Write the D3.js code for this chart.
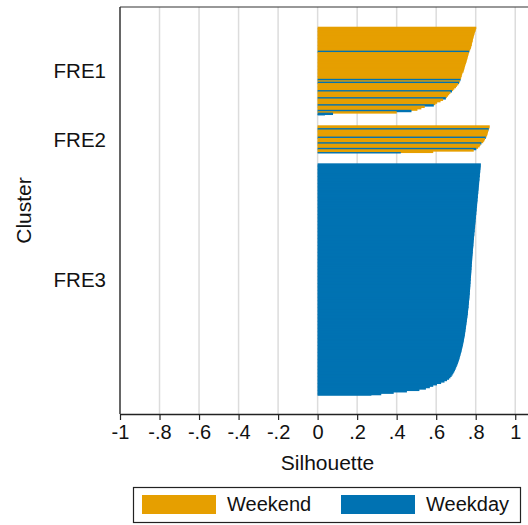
<!DOCTYPE html>
<html>
<head>
<meta charset="utf-8">
<script src="https://cdn.jsdelivr.net/npm/d3@7"></script>
<style>
  html, body { margin: 0; padding: 0; background: #fff; }
  svg { display: block; font-family: "Liberation Sans", Arial, sans-serif; }
</style>
</head>
<body>
<svg id="chart" width="528" height="525"></svg>
<script>
// Silhouette widths per cluster, sorted from largest to smallest
const clusters = ["FRE1", "FRE2", "FRE3"];

const fre1Silhouette = [
  0.803, 0.801, 0.799, 0.796, 0.794, 0.792, 0.790, 0.788, 0.786, 0.785,
  0.783, 0.781, 0.780, 0.778, 0.776, 0.773, 0.770, 0.767, 0.765, 0.763,
  0.761, 0.759, 0.757, 0.755, 0.753, 0.751, 0.748, 0.746, 0.744, 0.742,
  0.740, 0.738, 0.733, 0.731, 0.729, 0.727, 0.725, 0.723, 0.720, 0.716,
  0.712, 0.705, 0.700, 0.692, 0.686, 0.680, 0.672, 0.666, 0.660, 0.654,
  0.649, 0.635, 0.622, 0.605, 0.596, 0.588, 0.542, 0.525, 0.505, 0.475,
  0.400, 0.078, 0.037
];
// rows (0-based) of each cluster that are weekday observations
const fre1WeekdayRows = [17, 37, 39, 45, 50, 55, 59, 61, 62];

const fre2Silhouette = [
  0.871, 0.869, 0.866, 0.864, 0.862, 0.860, 0.858, 0.855, 0.851, 0.847,
  0.843, 0.838, 0.829, 0.824, 0.820, 0.812, 0.803, 0.790, 0.585, 0.421
];
const fre2WeekdayRows = [2, 8, 12, 16, 19];

const fre3Silhouette = [
  0.826, 0.825, 0.825, 0.824, 0.823, 0.823, 0.822, 0.821, 0.821, 0.820,
  0.819, 0.819, 0.818, 0.817, 0.817, 0.816, 0.815, 0.815, 0.814, 0.813,
  0.813, 0.812, 0.811, 0.811, 0.810, 0.809, 0.809, 0.808, 0.807, 0.807,
  0.806, 0.805, 0.805, 0.804, 0.803, 0.803, 0.802, 0.801, 0.801, 0.800,
  0.799, 0.799, 0.798, 0.797, 0.797, 0.796, 0.795, 0.795, 0.794, 0.793,
  0.793, 0.792, 0.791, 0.791, 0.790, 0.789, 0.789, 0.788, 0.788, 0.787,
  0.786, 0.786, 0.785, 0.785, 0.784, 0.783, 0.783, 0.782, 0.782, 0.781,
  0.781, 0.780, 0.780, 0.779, 0.779, 0.778, 0.778, 0.777, 0.777, 0.776,
  0.776, 0.775, 0.775, 0.774, 0.774, 0.773, 0.773, 0.772, 0.772, 0.771,
  0.771, 0.770, 0.770, 0.769, 0.768, 0.768, 0.767, 0.766, 0.766, 0.765,
  0.764, 0.764, 0.763, 0.762, 0.761, 0.761, 0.760, 0.759, 0.758, 0.757,
  0.756, 0.755, 0.754, 0.753, 0.752, 0.751, 0.750, 0.749, 0.748, 0.747,
  0.746, 0.745, 0.744, 0.742, 0.741, 0.740, 0.738, 0.737, 0.735, 0.734,
  0.732, 0.730, 0.729, 0.727, 0.725, 0.723, 0.721, 0.719, 0.717, 0.715,
  0.712, 0.710, 0.707, 0.704, 0.701, 0.698, 0.695, 0.691, 0.687, 0.683,
  0.678, 0.672, 0.665, 0.655, 0.642, 0.625, 0.604, 0.585, 0.568, 0.548,
  0.515, 0.452, 0.385, 0.322, 0.272
];
const fre3WeekdayRows = d3.range(fre3Silhouette.length); // every row is a weekday observation

const dayTypes = ["Weekend", "Weekday"];
const xTicks = [-1, -0.8, -0.6, -0.4, -0.2, 0, 0.2, 0.4, 0.6, 0.8, 1];

// ---- layout ----
const W = 528, H = 525;
const plot = { left: 120, right: 535, top: 7, bottom: 414 };
const padTopRows = 14, gapRows = 7, padBottomRows = 13;
const colors = { Weekend: "#E69F00", Weekday: "#0072B2" };

const svg = d3.select("#chart");

// build rows with slot positions
const groups = [
  { name: clusters[0], vals: fre1Silhouette, weekday: new Set(fre1WeekdayRows) },
  { name: clusters[1], vals: fre2Silhouette, weekday: new Set(fre2WeekdayRows) },
  { name: clusters[2], vals: fre3Silhouette, weekday: new Set(fre3WeekdayRows) }
];
const rows = [];
let slot = padTopRows;
groups.forEach((g, gi) => {
  g.start = slot;
  g.vals.forEach((v, i) => {
    rows.push({ slot: slot, value: v, type: g.weekday.has(i) ? "Weekday" : "Weekend", last: i === g.vals.length - 1 });
    slot += 1;
  });
  g.end = slot;
  if (gi < groups.length - 1) slot += gapRows;
});
const totalSlots = slot + padBottomRows;

const x = d3.scaleLinear().domain([-1, 1.1]).range([plot.left, plot.right]);
const y = d3.scaleLinear().domain([0, totalSlots]).range([plot.top, plot.bottom]);

// vertical grid lines
svg.append("g")
  .selectAll("line")
  .data(xTicks.filter(t => t !== -1))
  .join("line")
  .attr("x1", d => x(d)).attr("x2", d => x(d))
  .attr("y1", plot.top).attr("y2", plot.bottom)
  .attr("stroke", "#dcdcdc")
  .attr("stroke-width", 1.5);

// silhouette bars (each row overlaps the next slightly so no seams show)
svg.append("g")
  .selectAll("rect")
  .data(rows)
  .join("rect")
  .attr("x", x(0))
  .attr("y", d => y(d.slot))
  .attr("width", d => x(d.value) - x(0))
  .attr("height", d => y(d.slot + 1) - y(d.slot) + (d.last ? 0 : 1))
  .attr("fill", d => colors[d.type]);

// frame: top line and left axis line
svg.append("line")
  .attr("x1", plot.left).attr("x2", W)
  .attr("y1", plot.top).attr("y2", plot.top)
  .attr("stroke", "#333").attr("stroke-width", 1.2);
svg.append("line")
  .attr("x1", plot.left).attr("x2", plot.left)
  .attr("y1", plot.top).attr("y2", plot.bottom)
  .attr("stroke", "#333").attr("stroke-width", 1.5);

// x axis
const fmt = d => {
  if (Math.abs(d) < 1e-9) return "0";
  if (Math.abs(Math.abs(d) - 1) < 1e-9) return d < 0 ? "-1" : "1";
  return (d < 0 ? "-" : "") + Math.abs(d).toFixed(1).replace(/^0\./, ".");
};
const xAxis = svg.append("g")
  .attr("transform", `translate(0,${plot.bottom})`)
  .call(d3.axisBottom(x).tickValues(xTicks).tickFormat(fmt).tickSize(6).tickSizeOuter(0));
xAxis.select(".domain").attr("stroke", "#222").attr("stroke-width", 1.5);
xAxis.selectAll(".tick line").attr("stroke", "#222").attr("stroke-width", 1.2);
xAxis.selectAll(".tick text")
  .attr("fill", "#111")
  .attr("font-size", 20)
  .attr("y", 11)
  .attr("font-family", "'Liberation Sans', Arial, sans-serif");

// cluster labels
svg.append("g")
  .selectAll("text")
  .data(groups)
  .join("text")
  .attr("x", 106)
  .attr("y", d => y((d.start + d.end) / 2))
  .attr("dy", "0.36em")
  .attr("text-anchor", "end")
  .attr("font-size", 20.5)
  .attr("fill", "#111")
  .text(d => d.name);

// axis titles
svg.append("text")
  .attr("x", (plot.left + plot.right) / 2)
  .attr("y", 470)
  .attr("text-anchor", "middle")
  .attr("font-size", 21)
  .attr("fill", "#111")
  .text("Silhouette");
svg.append("text")
  .attr("transform", `translate(31,${(plot.top + plot.bottom) / 2}) rotate(-90)`)
  .attr("text-anchor", "middle")
  .attr("font-size", 21)
  .attr("fill", "#111")
  .text("Cluster");

// legend
const legend = svg.append("g");
legend.append("rect")
  .attr("x", 133.5).attr("y", 487.5)
  .attr("width", 387).attr("height", 35)
  .attr("fill", "#fff").attr("stroke", "#222").attr("stroke-width", 1.2);
const legendX = [142, 341];
dayTypes.forEach((t, i) => {
  legend.append("rect")
    .attr("x", legendX[i]).attr("y", 495)
    .attr("width", 74).attr("height", 19)
    .attr("fill", colors[t]);
  legend.append("text")
    .attr("x", legendX[i] + 85).attr("y", 511)
    .attr("font-size", 20)
    .attr("fill", "#111")
    .text(t);
});
</script>
</body>
</html>
